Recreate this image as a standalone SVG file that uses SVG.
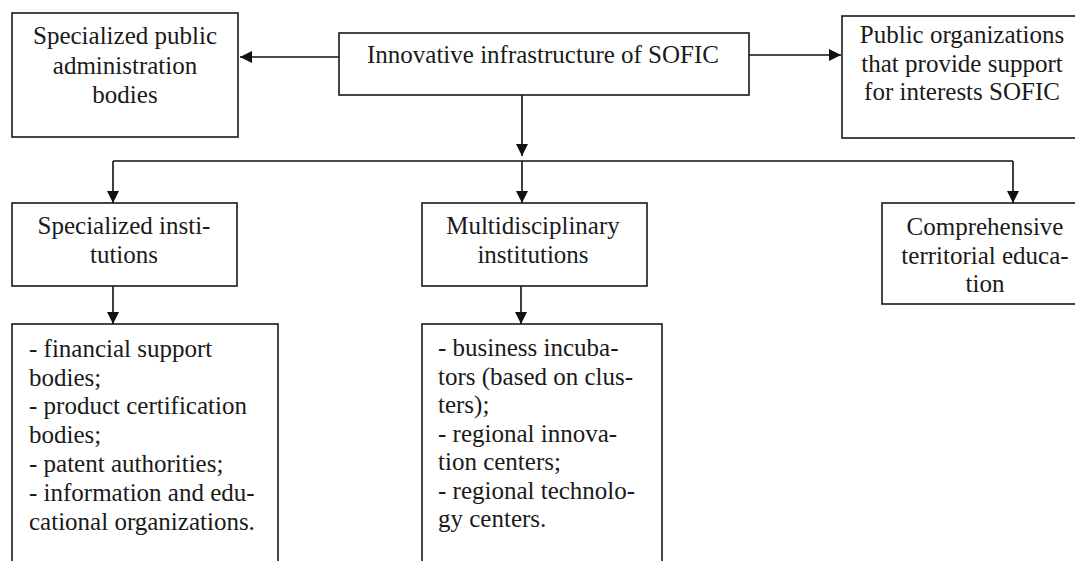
<svg xmlns="http://www.w3.org/2000/svg" width="1075" height="561" viewBox="0 0 1075 561">
  <style>
    .box { fill: #ffffff; stroke: #1a1a1a; stroke-width: 1.6; }
    .t { font-family: "Liberation Serif", "Times New Roman", serif; font-size: 25px; fill: #1a1a1a; }
    .c { text-anchor: middle; }
    .conn { stroke: #111111; stroke-width: 1.6; fill: none; }
  </style>
  <defs>
    <marker id="ah" markerUnits="userSpaceOnUse" markerWidth="14" markerHeight="14" refX="12" refY="6" orient="auto">
      <path d="M0,0 L12,6 L0,12 Z" fill="#111111"/>
    </marker>
  </defs>
  <rect x="0" y="0" width="1075" height="561" fill="#ffffff"/>

  <g id="connectors">
    <line class="conn" x1="339" y1="57" x2="240" y2="57" marker-end="url(#ah)"/>
    <line class="conn" x1="749" y1="55" x2="841" y2="55" marker-end="url(#ah)"/>
    <line class="conn" x1="522" y1="95" x2="522" y2="156" marker-end="url(#ah)"/>
    <line class="conn" x1="113" y1="161" x2="1013" y2="161"/>
    <line class="conn" x1="113" y1="161" x2="113" y2="203" marker-end="url(#ah)"/>
    <line class="conn" x1="522" y1="161" x2="522" y2="203" marker-end="url(#ah)"/>
    <line class="conn" x1="1013" y1="161" x2="1013" y2="203" marker-end="url(#ah)"/>
    <line class="conn" x1="113" y1="286" x2="113" y2="324" marker-end="url(#ah)"/>
    <line class="conn" x1="521" y1="286" x2="521" y2="324" marker-end="url(#ah)"/>
  </g>

  <g id="node-admin">
    <rect class="box" x="12" y="13" width="226" height="124"/>
    <text class="t c" x="125" y="44">Specialized public</text>
    <text class="t c" x="125" y="74">administration</text>
    <text class="t c" x="125" y="103">bodies</text>
  </g>

  <g id="node-infra">
    <rect class="box" x="339" y="33" width="410" height="62"/>
    <text class="t c" x="543" y="63">Innovative infrastructure of SOFIC</text>
  </g>

  <g id="node-public">
    <rect class="box" x="842" y="16" width="245" height="122"/>
    <text class="t c" x="962" y="43">Public organizations</text>
    <text class="t c" x="962" y="72">that provide support</text>
    <text class="t c" x="962" y="100">for interests SOFIC</text>
  </g>

  <g id="node-specialized">
    <rect class="box" x="12" y="203" width="225" height="83"/>
    <text class="t c" x="124" y="234">Specialized insti-</text>
    <text class="t c" x="124" y="263">tutions</text>
  </g>

  <g id="node-multi">
    <rect class="box" x="422" y="203" width="225" height="83"/>
    <text class="t c" x="533" y="234">Multidisciplinary</text>
    <text class="t c" x="533" y="263">institutions</text>
  </g>

  <g id="node-comprehensive">
    <rect class="box" x="882" y="203" width="210" height="101"/>
    <text class="t c" x="985" y="235">Comprehensive</text>
    <text class="t c" x="985" y="264">territorial educa-</text>
    <text class="t c" x="985" y="292">tion</text>
  </g>

  <g id="node-list-specialized">
    <rect class="box" x="12" y="324" width="266" height="260"/>
    <text class="t" x="29" y="357">- financial support</text>
    <text class="t" x="29" y="386">bodies;</text>
    <text class="t" x="29" y="414">- product certification</text>
    <text class="t" x="29" y="443">bodies;</text>
    <text class="t" x="29" y="472">- patent authorities;</text>
    <text class="t" x="29" y="501">- information and edu-</text>
    <text class="t" x="29" y="530">cational organizations.</text>
  </g>

  <g id="node-list-multi">
    <rect class="box" x="422" y="324" width="240" height="260"/>
    <text class="t" x="438" y="356">- business incuba-</text>
    <text class="t" x="438" y="385">tors (based on clus-</text>
    <text class="t" x="438" y="413">ters);</text>
    <text class="t" x="438" y="442">- regional innova-</text>
    <text class="t" x="438" y="470">tion centers;</text>
    <text class="t" x="438" y="499">- regional technolo-</text>
    <text class="t" x="438" y="527">gy centers.</text>
  </g>
</svg>
